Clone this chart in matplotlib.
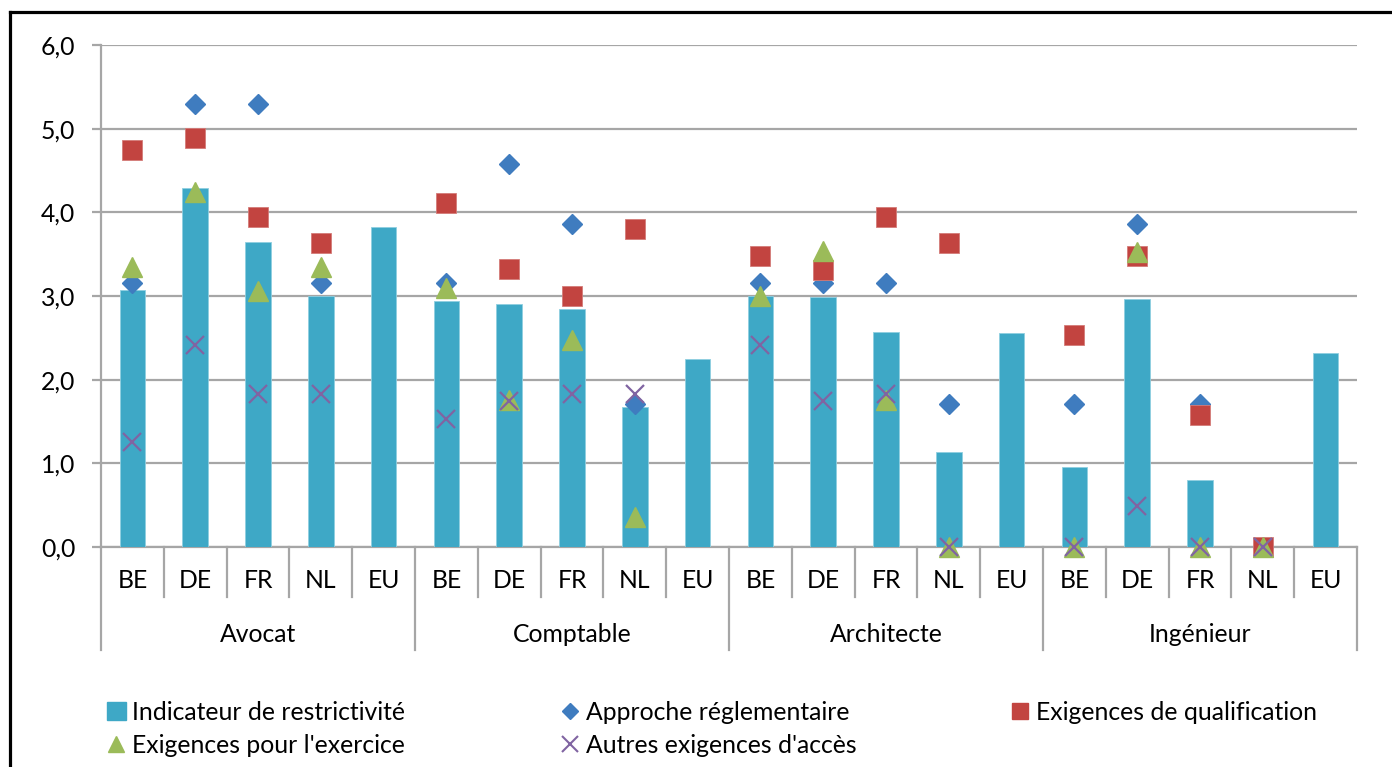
import numpy as np
import matplotlib
matplotlib.use('Agg')
import matplotlib.pyplot as plt
from matplotlib.lines import Line2D
from matplotlib.patches import Patch
import matplotlib.transforms as mtransforms

plt.rcParams['font.family'] = ['Lato', 'DejaVu Sans']

# ---------------- data ----------------
professions = ['Avocat', 'Comptable', 'Architecte', 'Ingénieur']
countries = ['BE', 'DE', 'FR', 'NL', 'EU']

indicateur = [3.07, 4.29, 3.64, 3.00, 3.83,
              2.94, 2.90, 2.85, 1.67, 2.25,
              3.00, 2.99, 2.57, 1.14, 2.56,
              0.96, 2.97, 0.80, 0.00, 2.32]
approche = [3.15, 5.29, 5.29, 3.15, np.nan,
            3.15, 4.58, 3.86, 1.71, np.nan,
            3.15, 3.15, 3.15, 1.71, np.nan,
            1.71, 3.86, 1.71, 0.00, np.nan]
qualification = [4.74, 4.89, 3.95, 3.63, np.nan,
                 4.11, 3.32, 3.00, 3.80, np.nan,
                 3.48, 3.31, 3.95, 3.63, np.nan,
                 2.53, 3.48, 1.58, 0.00, np.nan]
exercice = [3.35, 4.24, 3.06, 3.35, np.nan,
            3.09, 1.76, 2.47, 0.36, np.nan,
            3.00, 3.54, 1.76, 0.00, np.nan,
            0.00, 3.53, 0.00, 0.00, np.nan]
autres = [1.25, 2.42, 1.83, 1.83, np.nan,
          1.53, 1.75, 1.83, 1.83, np.nan,
          2.42, 1.75, 1.83, 0.00, np.nan,
          0.00, 0.49, 0.00, 0.00, np.nan]

series_labels = ['Indicateur de restrictivité', 'Approche réglementaire',
                 'Exigences de qualification', "Exigences pour l'exercice",
                 "Autres exigences d'accès"]
yticks = [0, 1, 2, 3, 4, 5, 6]

# ---------------- style ----------------
C_BAR = '#3EA8C6'
C_DIA = '#3F7CBF'
C_SQ = '#C24440'
C_TRI = '#9BBB59'
C_X = '#8064A2'
GRID = '#A6A6A6'
FS = 17.8

W, H = 1392, 767
fig = plt.figure(figsize=(W / 100, H / 100), dpi=100)
L, R, T, B = 101, 1357, 45, 547
ax = fig.add_axes([L / W, 1 - B / H, (R - L) / W, (B - T) / H])

n = len(indicateur)
x = np.arange(n)

ax.bar(x, indicateur, width=0.41, color=C_BAR, edgecolor='#8fcfe0',
       linewidth=0.6, zorder=2)
ax.plot(x, approche, ls='none', marker='D', ms=10.5, color=C_DIA,
        mec=C_DIA, zorder=3, clip_on=False)
ax.plot(x, qualification, ls='none', marker='s', ms=14.5, color=C_SQ,
        mec='#d47b78', mew=0.6, zorder=4, clip_on=False)
ax.plot(x, exercice, ls='none', marker='^', ms=14, color=C_TRI,
        mec=C_TRI, zorder=5, clip_on=False)
ax.plot(x, autres, ls='none', marker='x', ms=13, color=C_X,
        mew=1.6, zorder=6, clip_on=False)

ax.set_xlim(-0.5, n - 0.5)
ax.set_ylim(0, 6)
ax.set_yticks(yticks)
ax.set_yticklabels([f'{v:.1f}'.replace('.', ',') for v in yticks])
ax.yaxis.grid(True, color=GRID, lw=1.6)
ax.set_axisbelow(True)
ax.set_xticks([])

for s in ['top', 'right']:
    ax.spines[s].set_visible(False)
for s in ['left', 'bottom']:
    ax.spines[s].set_color(GRID)
    ax.spines[s].set_linewidth(1.6)
    ax.spines[s].set_zorder(1)

ax.tick_params(axis='y', length=6.5, width=1.6, color=GRID, pad=12,
               labelsize=FS)

# multi-level category axis
ah = B - T
trans = mtransforms.blended_transform_factory(ax.transData, ax.transAxes)
for i in range(n + 1):
    b = i - 0.5
    depth = 103 if i % len(countries) == 0 else 50
    ax.plot([b, b], [0, -depth / ah], transform=trans, color=GRID, lw=1.6,
            clip_on=False, zorder=1)
for i in range(n):
    ax.text(i, -34 / ah, countries[i % len(countries)], transform=trans,
            ha='center', va='center', fontsize=FS)
for g, p in enumerate(professions):
    c = g * len(countries) + (len(countries) - 1) / 2
    ax.text(c, -87 / ah, p, transform=trans, ha='center', va='center',
            fontsize=FS)

# outer frame (top and left edges visible)
fig.add_artist(Line2D([9.5 / W, 9.5 / W], [0, 1 - 11.5 / H],
                      transform=fig.transFigure, color='black', lw=2.3))
fig.add_artist(Line2D([9.5 / W, 1.0], [1 - 11.5 / H, 1 - 11.5 / H],
                      transform=fig.transFigure, color='black', lw=2.3))

# legend
h_bar = Patch(facecolor=C_BAR, edgecolor=C_BAR)
h_dia = Line2D([], [], ls='none', marker='D', ms=8.5, color=C_DIA)
h_sq = Line2D([], [], ls='none', marker='s', ms=12, color=C_SQ)
h_tri = Line2D([], [], ls='none', marker='^', ms=12, color=C_TRI)
h_x = Line2D([], [], ls='none', marker='x', ms=11, color=C_X, mew=1.5)

leg_kw = dict(loc='upper left', frameon=False, fontsize=FS, borderpad=0,
              borderaxespad=0, handlelength=0.75, handleheight=0.75,
              handletextpad=0.25, labelspacing=0.4,
              bbox_transform=fig.transFigure)
ytop = 1 - 701 / H
fig.legend([h_bar, h_tri], [series_labels[0], series_labels[3]],
           bbox_to_anchor=(107 / W, ytop), **leg_kw)
fig.legend([h_dia, h_x], [series_labels[1], series_labels[4]],
           bbox_to_anchor=(561 / W, ytop), **leg_kw)
fig.legend([h_sq], [series_labels[2]],
           bbox_to_anchor=(1011 / W, ytop), **leg_kw)

fig.savefig('out.png', dpi=100, facecolor='white')
